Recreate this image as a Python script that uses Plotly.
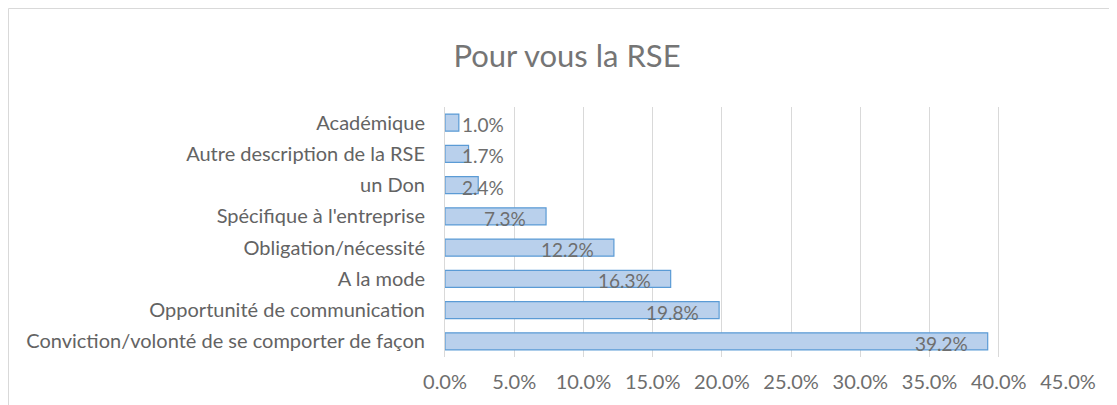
import plotly.graph_objects as go

categories = [
    "Conviction/volonté de se comporter de façon",
    "Opportunité de communication",
    "A la mode",
    "Obligation/nécessité",
    "Spécifique à l'entreprise",
    "un Don",
    "Autre description de la RSE",
    "Académique",
]
values = [0.392, 0.198, 0.163, 0.122, 0.073, 0.024, 0.017, 0.010]
x_ticks = [0, 0.05, 0.10, 0.15, 0.20, 0.25, 0.30, 0.35, 0.40, 0.45]

FONT = "Lato"
GREY = "#636363"

# page body has an 8px margin, so the figure is sized to fit the window
W, H = 1109, 397
L, R, T, B = 437, 49, 99, 48
PW, PH = W - L - R, H - T - B

fig = go.Figure()
fig.add_trace(go.Bar(
    x=values, y=categories, orientation="h",
    marker=dict(color="#b9d0ec", line=dict(color="#5b9bd5", width=1.2)),
    hoverinfo="x+y",
))

# data labels sit just inside the bar end, but never closer than the left edge
for c, v in zip(categories, values):
    fig.add_annotation(
        x=max(v, 0.057), y=c, text=f"{v*100:.1f}%", showarrow=False,
        xanchor="right", xshift=-18, yshift=-2,
        font=dict(family=FONT, size=19, color="#6e6e6e"),
    )

fig.update_layout(
    width=W, height=H,
    margin=dict(l=L, r=R, t=T, b=B),
    paper_bgcolor="white", plot_bgcolor="white",
    showlegend=False, bargap=0.45,
    font=dict(family=FONT, color=GREY),
    title=dict(text="Pour vous la RSE", x=559 / W, xref="container", xanchor="center",
               y=1 - 48 / H, yref="container", yanchor="middle",
               font=dict(family=FONT, size=31, color="#757575")),
    xaxis=dict(range=[0, 0.45], tickvals=x_ticks, tickformat=".1%",
               showgrid=True, gridcolor="#d9d9d9", gridwidth=1, zeroline=False,
               tickfont=dict(family=FONT, size=20, color="#6e6e6e"),
               ticklabelstandoff=11, fixedrange=True),
    yaxis=dict(showline=True, linecolor="#d9d9d9", linewidth=1, showgrid=False,
               tickfont=dict(family=FONT, size=20, color=GREY),
               ticklabelstandoff=15, fixedrange=True),
    shapes=[dict(type="rect", xref="paper", yref="paper",
                 x0=(0.5 - L) / PW, x1=(W + 20 - L) / PW,
                 y0=-(B + 20) / PH, y1=(PH + T - 0.5) / PH,
                 line=dict(color="#d9d9d9", width=1), layer="below")],
)

fig.write_html("out.html")
